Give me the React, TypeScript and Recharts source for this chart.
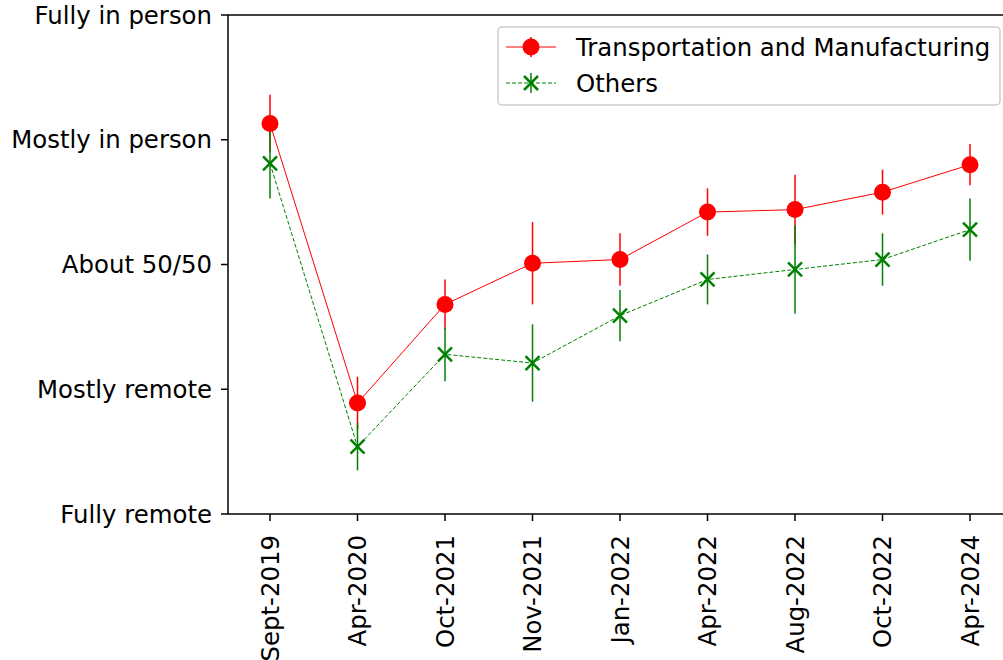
import { LineChart, Line, XAxis, YAxis, ErrorBar, ReferenceLine } from 'recharts'

const CATEGORIES = ['Sept-2019', 'Apr-2020', 'Oct-2021', 'Nov-2021', 'Jan-2022', 'Apr-2022', 'Aug-2022', 'Oct-2022', 'Apr-2024']
const TM_VALUES = [3.13, 0.89, 1.68, 2.01, 2.04, 2.42, 2.44, 2.58, 2.8]
const TM_ERRORS = [0.23, 0.21, 0.2, 0.33, 0.21, 0.19, 0.28, 0.18, 0.165]
const OTHER_VALUES = [2.81, 0.54, 1.28, 1.21, 1.59, 1.88, 1.96, 2.04, 2.28]
const OTHER_ERRORS = [0.28, 0.19, 0.215, 0.31, 0.205, 0.2, 0.355, 0.21, 0.25]
const Y_LABELS = ['Fully remote', 'Mostly remote', 'About 50/50', 'Mostly in person', 'Fully in person']

const RED = '#ff0000'
const GREEN = '#008000'
const FONT = 'DejaVu Sans, sans-serif'
const FS = 24.4

const data = CATEGORIES.map((c, i) => ({
  idx: i,
  label: c,
  tm: TM_VALUES[i],
  tmErr: TM_ERRORS[i],
  other: OTHER_VALUES[i],
  otherErr: OTHER_ERRORS[i],
}))

function RedDot(props: any) {
  const { cx, cy, index } = props
  return <circle key={`r${index}`} cx={cx} cy={cy} r={8.5} fill={RED} />
}

function CrossDot(props: any) {
  const { cx, cy, index } = props
  const s = 7
  return (
    <g key={`g${index}`} stroke={GREEN} strokeWidth={2.5}>
      <line x1={cx - s} y1={cy - s} x2={cx + s} y2={cy + s} />
      <line x1={cx - s} y1={cy + s} x2={cx + s} y2={cy - s} />
    </g>
  )
}

function XTick(props: any) {
  const { x, y, payload } = props
  return (
    <text x={x} y={y} transform={`rotate(-90 ${x} ${y})`} textAnchor="end" dx={-12} dy={8.5}
      fontSize={FS} fontFamily={FONT} fill="#000">
      {CATEGORIES[payload.value]}
    </text>
  )
}

function LegendBox() {
  return (
    <svg width={504} height={80} style={{ position: 'absolute', left: 497, top: 26 }}>
      <rect x={1} y={1} width={502} height={78} rx={4} fill="#fff" stroke="#cccccc" strokeWidth={1.5} />
      <line x1={9} y1={21} x2={59} y2={21} stroke={RED} strokeWidth={1} />
      <line x1={34} y1={11} x2={34} y2={31} stroke={RED} strokeWidth={1.5} />
      <circle cx={34} cy={21} r={8.5} fill={RED} />
      <text x={79} y={30} fontSize={FS} fontFamily={FONT} fill="#000">Transportation and Manufacturing</text>
      <line x1={9} y1={57} x2={59} y2={57} stroke={GREEN} strokeWidth={1} strokeDasharray="4 2" />
      <line x1={34} y1={47} x2={34} y2={67} stroke={GREEN} strokeWidth={1.5} />
      <g stroke={GREEN} strokeWidth={2.5}>
        <line x1={27} y1={50} x2={41} y2={64} />
        <line x1={27} y1={64} x2={41} y2={50} />
      </g>
      <text x={79} y={66} fontSize={FS} fontFamily={FONT} fill="#000">Others</text>
    </svg>
  )
}

export default function App() {
  return (
    <div style={{ position: 'absolute', left: 0, top: 0, width: 1003, height: 660, overflow: 'hidden', background: '#fff' }}>
      <LineChart width={1003} height={660} data={data} margin={{ top: 15, right: 0, bottom: 0, left: 0 }}>
        <XAxis
          type="number"
          dataKey="idx"
          domain={[-0.48, 8.377]}
          ticks={[0, 1, 2, 3, 4, 5, 6, 7, 8]}
          allowDataOverflow
          interval={0}
          height={146}
          tickSize={7}
          stroke="#000"
          strokeWidth={1.5}
          tickLine={{ stroke: '#000', strokeWidth: 1.5 }}
          tick={<XTick />}
        />
        <YAxis
          type="number"
          domain={[0, 4]}
          ticks={[0, 1, 2, 3, 4]}
          width={228}
          tickSize={7}
          stroke="#000"
          strokeWidth={1.5}
          tickLine={{ stroke: '#000', strokeWidth: 1.5 }}
          tickFormatter={(v: number) => Y_LABELS[v]}
          tick={{ fontSize: FS, fontFamily: FONT, fill: '#000', dx: -7 }}
        />
        <ReferenceLine y={4} stroke="#000" strokeWidth={1.5} ifOverflow="visible" />
        <Line
          dataKey="tm"
          stroke={RED}
          strokeWidth={1}
          dot={RedDot}
          activeDot={false}
          isAnimationActive={false}
        >
          <ErrorBar dataKey="tmErr" direction="y" width={0} stroke={RED} strokeWidth={1.5} isAnimationActive={false} />
        </Line>
        <Line
          dataKey="other"
          stroke={GREEN}
          strokeWidth={1}
          strokeDasharray="4 2"
          dot={CrossDot}
          activeDot={false}
          isAnimationActive={false}
        >
          <ErrorBar dataKey="otherErr" direction="y" width={0} stroke={GREEN} strokeWidth={1.5} isAnimationActive={false} />
        </Line>
      </LineChart>
      <LegendBox />
    </div>
  )
}
